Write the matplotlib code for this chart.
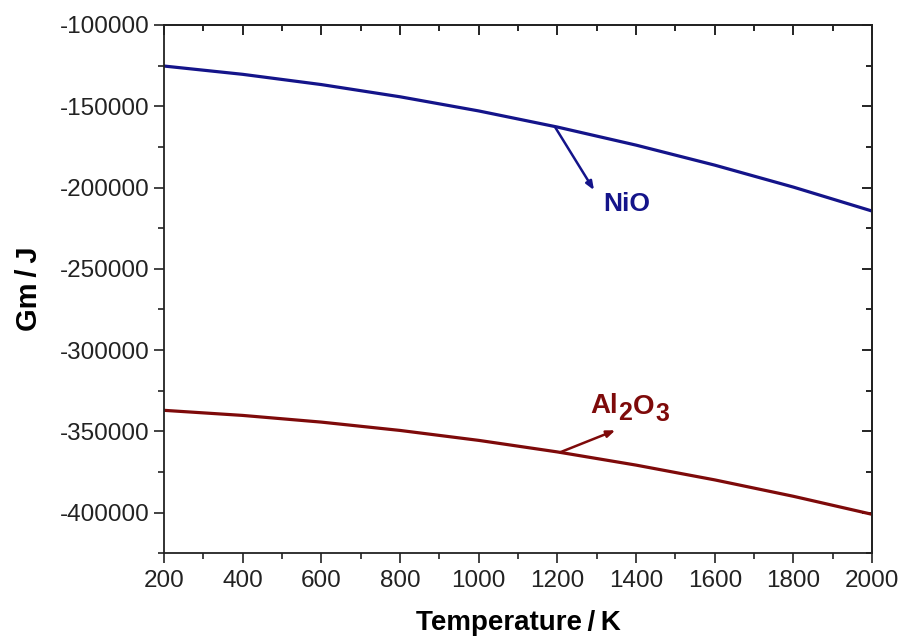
import matplotlib
matplotlib.use("Agg")
import matplotlib.pyplot as plt
from matplotlib.ticker import MultipleLocator

plt.rcParams['font.family'] = ['Liberation Sans', 'DejaVu Sans']
plt.rcParams['axes.unicode_minus'] = False

# Gibbs energy of formation vs temperature
temperature = [200, 400, 600, 800, 1000, 1200, 1400, 1600, 1800, 2000]
g_nio = [-125250, -130350, -136660, -144170, -152880, -162800, -173920, -186240, -199770, -214500]
g_al2o3 = [-337100, -340230, -344350, -349470, -355590, -362700, -370810, -379910, -390010, -401100]

nio_color = '#14148a'
al_color = '#7e0a0a'

fig = plt.figure(figsize=(9.01, 6.41), dpi=100)
ax = fig.add_axes([0.182, 0.137, 0.786, 0.824])

ax.plot(temperature, g_nio, color=nio_color, lw=2.3)
ax.plot(temperature, g_al2o3, color=al_color, lw=2.3)

ax.set_xlim(200, 2000)
ax.set_ylim(-425000, -100000)
ax.xaxis.set_major_locator(MultipleLocator(200))
ax.xaxis.set_minor_locator(MultipleLocator(100))
ax.yaxis.set_major_locator(MultipleLocator(50000))
ax.yaxis.set_minor_locator(MultipleLocator(25000))

ax.tick_params(which='both', width=1.2, labelsize=17.5, colors='#222222')
ax.tick_params(which='major', length=7, direction='out', top=False, right=False)
ax.tick_params(which='minor', length=4, direction='out', top=False, right=False)
ax.tick_params(axis='x', pad=5)

# inward ticks on top and right edges
top = ax.secondary_xaxis('top')
top.xaxis.set_major_locator(MultipleLocator(200))
top.xaxis.set_minor_locator(MultipleLocator(100))
top.tick_params(which='major', direction='in', length=7, width=1.2, labeltop=False)
top.tick_params(which='minor', direction='in', length=4, width=1.2)
right = ax.secondary_yaxis('right')
right.yaxis.set_major_locator(MultipleLocator(50000))
right.yaxis.set_minor_locator(MultipleLocator(25000))
right.tick_params(which='major', direction='in', length=7, width=1.2, labelright=False)
right.tick_params(which='minor', direction='in', length=4, width=1.2)
for sp in list(ax.spines.values()) + [top.spines['top'], right.spines['right']]:
    sp.set_linewidth(1.3)
    sp.set_color('#222222')

ax.set_xlabel('Temperature\u2009/\u2009K', fontsize=20, fontweight='bold', labelpad=13)
ax.set_ylabel('Gm\u2009/\u2009J', fontsize=21, fontweight='bold', labelpad=12)

ax.annotate('', xy=(1293, -201600), xytext=(1194, -162800),
            arrowprops=dict(arrowstyle='-|>,head_length=0.5,head_width=0.2',
                            color=nio_color, lw=1.8, shrinkA=0, shrinkB=0))
ax.text(1375, -210200, 'NiO', color=nio_color, fontsize=19, fontweight='bold',
        ha='center', va='center')

ax.annotate('', xy=(1347, -349400), xytext=(1207, -362900),
            arrowprops=dict(arrowstyle='-|>,head_length=0.5,head_width=0.2',
                            color=al_color, lw=1.8, shrinkA=0, shrinkB=0))

# Al2O3 label built piece by piece so the subscripts stay large
lab_kw = dict(color=al_color, fontweight='bold', va='bottom', ha='left')
first = ax.text(1283, -342500, 'Al', fontsize=20, **lab_kw)
prev = first
for piece, size, dy in [('2', 18, -4.5), ('O', 20, -1), ('3', 18, -5)]:
    prev = ax.annotate(piece, xy=(1, 0), xycoords=(prev, first), xytext=(0.5, dy),
                       textcoords='offset points', fontsize=size, **lab_kw)

fig.savefig('out.png', dpi=100)
